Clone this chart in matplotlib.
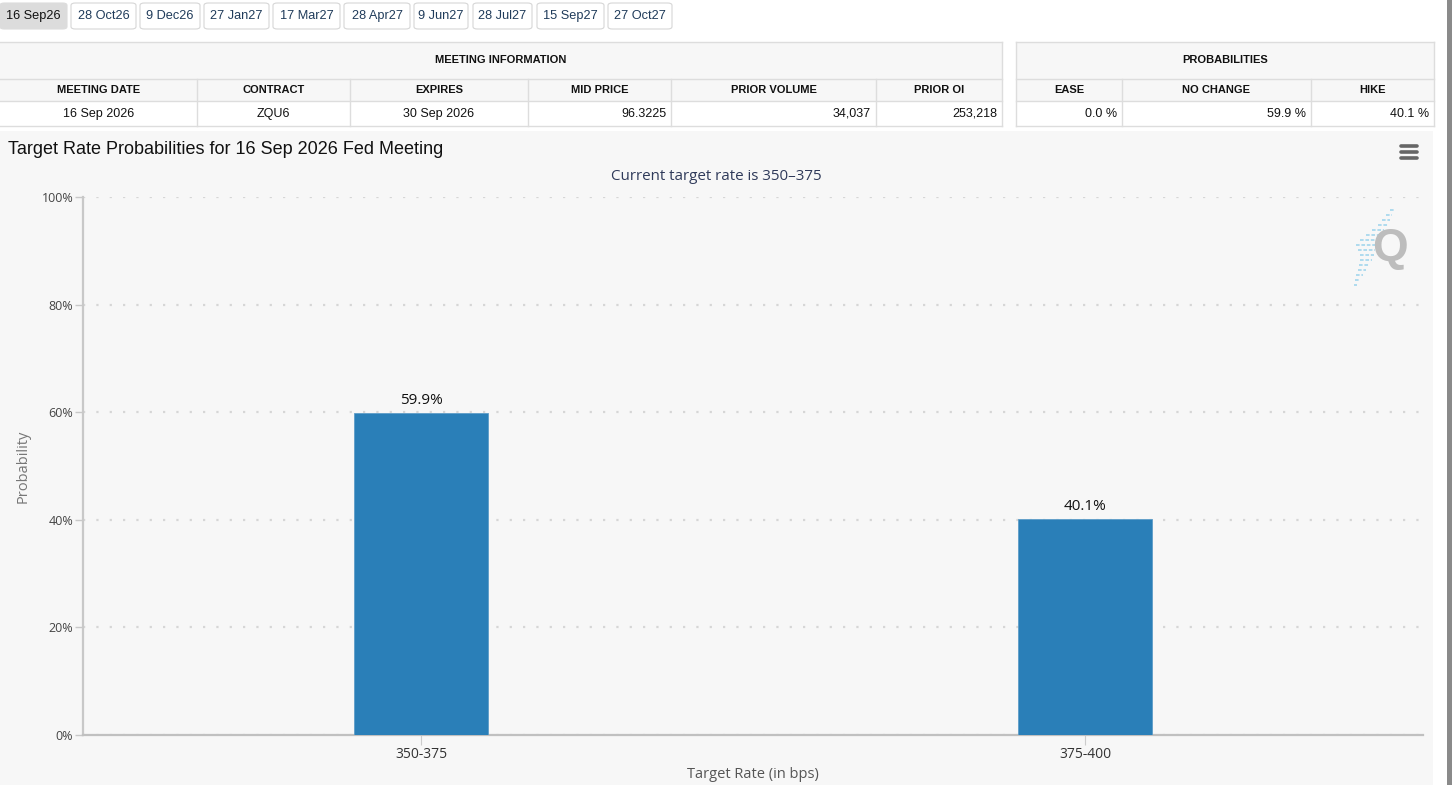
import matplotlib
matplotlib.use("Agg")
import matplotlib.pyplot as plt
from matplotlib.patches import Rectangle, FancyBboxPatch
from matplotlib.ticker import FixedLocator

# ---------------- data ----------------
meeting_tabs = ["16 Sep26", "28 Oct26", "9 Dec26", "27 Jan27", "17 Mar27",
                "28 Apr27", "9 Jun27", "28 Jul27", "15 Sep27", "27 Oct27"]
meeting_headers = ["MEETING DATE", "CONTRACT", "EXPIRES", "MID PRICE",
                   "PRIOR VOLUME", "PRIOR OI"]
meeting_values = ["16 Sep 2026", "ZQU6", "30 Sep 2026", "96.3225",
                  "34,037", "253,218"]
prob_headers = ["EASE", "NO CHANGE", "HIKE"]
prob_values = ["0.0 %", "59.9 %", "40.1 %"]

categories = ["350-375", "375-400"]
probabilities = [59.9, 40.1]
value_labels = ["59.9%", "40.1%"]
yticks = [0, 20, 40, 60, 80, 100]
ytick_labels = ["0%", "20%", "40%", "60%", "80%", "100%"]
title = "Target Rate Probabilities for 16 Sep 2026 Fed Meeting"
subtitle = "Current target rate is 350\u2013375"
xlabel = "Target Rate (in bps)"
ylabel = "Probability"

# ---------------- figure ----------------
W, H = 1452, 785
fig = plt.figure(figsize=(W / 100, H / 100), dpi=100)
fig.patch.set_facecolor("white")

def fx(x):
    return x / W

def fy(y):
    return 1 - y / H

def rect(x0, y0, x1, y1, fc, ec="none", lw=1.0, z=0):
    fig.patches.append(Rectangle((fx(x0), fy(y1)), fx(x1) - fx(x0), fy(y0) - fy(y1),
                                 transform=fig.transFigure, facecolor=fc,
                                 edgecolor=ec, linewidth=lw, zorder=z))

def hline(x0, x1, y, color="#dddddd", lw=1.0, z=2):
    fig.add_artist(plt.Line2D([fx(x0), fx(x1)], [fy(y), fy(y)], transform=fig.transFigure,
                              color=color, linewidth=lw, zorder=z))

def vline(x, y0, y1, color="#dddddd", lw=1.0, z=2):
    fig.add_artist(plt.Line2D([fx(x), fx(x)], [fy(y0), fy(y1)], transform=fig.transFigure,
                              color=color, linewidth=lw, zorder=z))

ARIAL = "Liberation Sans"

# ---------------- tabs ----------------
tab_bounds = [(0, 67), (71, 136), (140, 200), (204, 269), (273, 340),
              (344, 410), (414, 468), (473, 532), (537, 604), (608, 672)]
for i, (lbl, (a, b)) in enumerate(zip(meeting_tabs, tab_bounds)):
    fc = "#dcdcdc" if i == 0 else "white"
    ec = "#dcdcdc" if i == 0 else "#d6d6d6"
    fig.patches.append(FancyBboxPatch((fx(a), fy(29)), fx(b) - fx(a), fy(3) - fy(29),
                                      boxstyle="round,pad=0,rounding_size=0.003",
                                      transform=fig.transFigure, facecolor=fc,
                                      edgecolor=ec, linewidth=0.8, zorder=1))
    fig.text(fx((a + b) / 2), fy(16), lbl, ha="center", va="center",
             fontsize=9.2, family=ARIAL,
             color="#111111" if i == 0 else "#1f3b5a")

# ---------------- tables ----------------
border = "#dddddd"
# meeting info
rect(0, 42, 1002, 101, "#f7f7f7", z=1)
rect(0, 101, 1002, 126, "white", z=1)
for y in (42, 79, 101, 126):
    hline(0, 1002, y, border)
vline(1002, 42, 126, border)
fig.text(fx(501), fy(60), "MEETING INFORMATION", ha="center", va="center",
         fontsize=8, weight="bold", family=ARIAL, color="#111111")
col_edges = [0, 197, 350, 528, 671, 876, 1002]
for x in col_edges[1:-1]:
    vline(x, 79, 126, border)
for i, (h, v) in enumerate(zip(meeting_headers, meeting_values)):
    a, b = col_edges[i], col_edges[i + 1]
    fig.text(fx((a + b) / 2), fy(90), h, ha="center", va="center",
             fontsize=8, weight="bold", family=ARIAL, color="#111111")
    if i < 3:
        fig.text(fx((a + b) / 2), fy(114), v, ha="center", va="center",
                 fontsize=9, family=ARIAL, color="#111111")
    else:
        fig.text(fx(b - 5), fy(114), v, ha="right", va="center",
                 fontsize=9, family=ARIAL, color="#111111")

# probabilities
rect(1016, 42, 1434, 101, "#f7f7f7", z=1)
rect(1016, 101, 1434, 126, "white", z=1)
for y in (42, 79, 101, 126):
    hline(1016, 1434, y, border)
vline(1016, 42, 126, border)
vline(1434, 42, 126, border)
fig.text(fx(1225), fy(60), "PROBABILITIES", ha="center", va="center",
         fontsize=8, weight="bold", family=ARIAL, color="#111111")
p_edges = [1016, 1122, 1311, 1434]
for x in p_edges[1:-1]:
    vline(x, 79, 126, border)
for i, (h, v) in enumerate(zip(prob_headers, prob_values)):
    a, b = p_edges[i], p_edges[i + 1]
    fig.text(fx((a + b) / 2), fy(90), h, ha="center", va="center",
             fontsize=8, weight="bold", family=ARIAL, color="#111111")
    fig.text(fx(b - 5), fy(114), v, ha="right", va="center",
             fontsize=9, family=ARIAL, color="#111111")

# ---------------- chart panel ----------------
rect(0, 131, 1433, 785, "#f7f7f7", z=0)
# scrollbar
rect(1447, 0, 1452, 785, "#8a8a8a", z=0)

fig.text(fx(8), fy(149.5), title, ha="left", va="center", fontsize=13.0,
         family=ARIAL, color="#111111")
fig.text(fx(716), fy(176), subtitle, ha="center", va="center", fontsize=10.9,
         family="Open Sans", color="#2f3a5a")

# hamburger icon
for y in (146, 152, 158):
    fig.add_artist(plt.Line2D([fx(1401), fx(1417)], [fy(y), fy(y)],
                              transform=fig.transFigure, color="#666666",
                              linewidth=2.6, solid_capstyle="round", zorder=5))

# Q watermark
fig.text(fx(1390), fy(249), "Q", ha="center", va="center", fontsize=33,
         weight="bold", family=ARIAL, color="#bdbdbd", zorder=3)
streak = [(1390, 1394, 210), (1386, 1392, 215), (1382, 1390, 220), (1378, 1388, 225),
          (1372, 1384, 230), (1366, 1380, 235), (1360, 1377, 240), (1356, 1376, 245),
          (1358, 1375, 250), (1360, 1374, 255), (1360, 1372, 260), (1359, 1369, 265),
          (1358, 1366, 270), (1356, 1363, 275), (1355, 1360, 280), (1354, 1357, 285)]
for a, b, y in streak:
    fig.add_artist(plt.Line2D([fx(a), fx(b)], [fy(y), fy(y)], transform=fig.transFigure,
                              color="#a9d8ee", linewidth=1.3, linestyle=(0, (2, 1)),
                              zorder=2))

# ---------------- axes ----------------
left, right, top, bottom = 83, 1423, 197, 735
ax = fig.add_axes([fx(left), fy(bottom), fx(right) - fx(left), fy(top) - fy(bottom)])
ax.set_facecolor("none")
ax.set_zorder(4)

x = list(range(len(categories)))
bars = ax.bar(x, probabilities, width=0.202, color="#2a7fb8", edgecolor="#5d9dc8",
              linewidth=0.6, zorder=3)
for xi, p, lbl in zip(x, probabilities, value_labels):
    ax.annotate(lbl, (xi, p), xytext=(0, 3.5), textcoords="offset points",
                ha="center", va="bottom", fontsize=11, family="Open Sans",
                color="#111111")

ax.set_xlim(-0.509, len(categories) - 1 + 0.509)
ax.set_ylim(0, 100)
ax.yaxis.set_major_locator(FixedLocator(yticks))
ax.set_yticklabels(ytick_labels)
ax.set_xticks(x)
ax.set_xticklabels(categories)
ax.grid(axis="y", color="#d6d6d6", linestyle=(0, (1, 5)), linewidth=1.6, zorder=1)
ax.grid(axis="x", visible=False)

for s in ("top", "right"):
    ax.spines[s].set_visible(False)
ax.spines["left"].set_color("#c8c8c8")
ax.spines["left"].set_linewidth(1.6)
ax.spines["bottom"].set_color("#c0c0c0")
ax.spines["bottom"].set_linewidth(1.6)

ax.tick_params(axis="y", length=5.5, width=1, color="#c8c8c8", pad=1.5,
               labelsize=9, labelcolor="#444444")
ax.tick_params(axis="x", length=7, width=0.8, color="#cccccc", pad=1.5,
               labelsize=10, labelcolor="#333333")
for t in ax.get_yticklabels() + ax.get_xticklabels():
    t.set_family("Open Sans")

ax.set_xlabel(xlabel, fontsize=10.5, family="Open Sans", color="#555555", labelpad=3.5)
ax.set_ylabel(ylabel, fontsize=10.5, family="Open Sans", color="#777777", labelpad=8)

fig.savefig("out.png", dpi=100, facecolor=fig.get_facecolor())
